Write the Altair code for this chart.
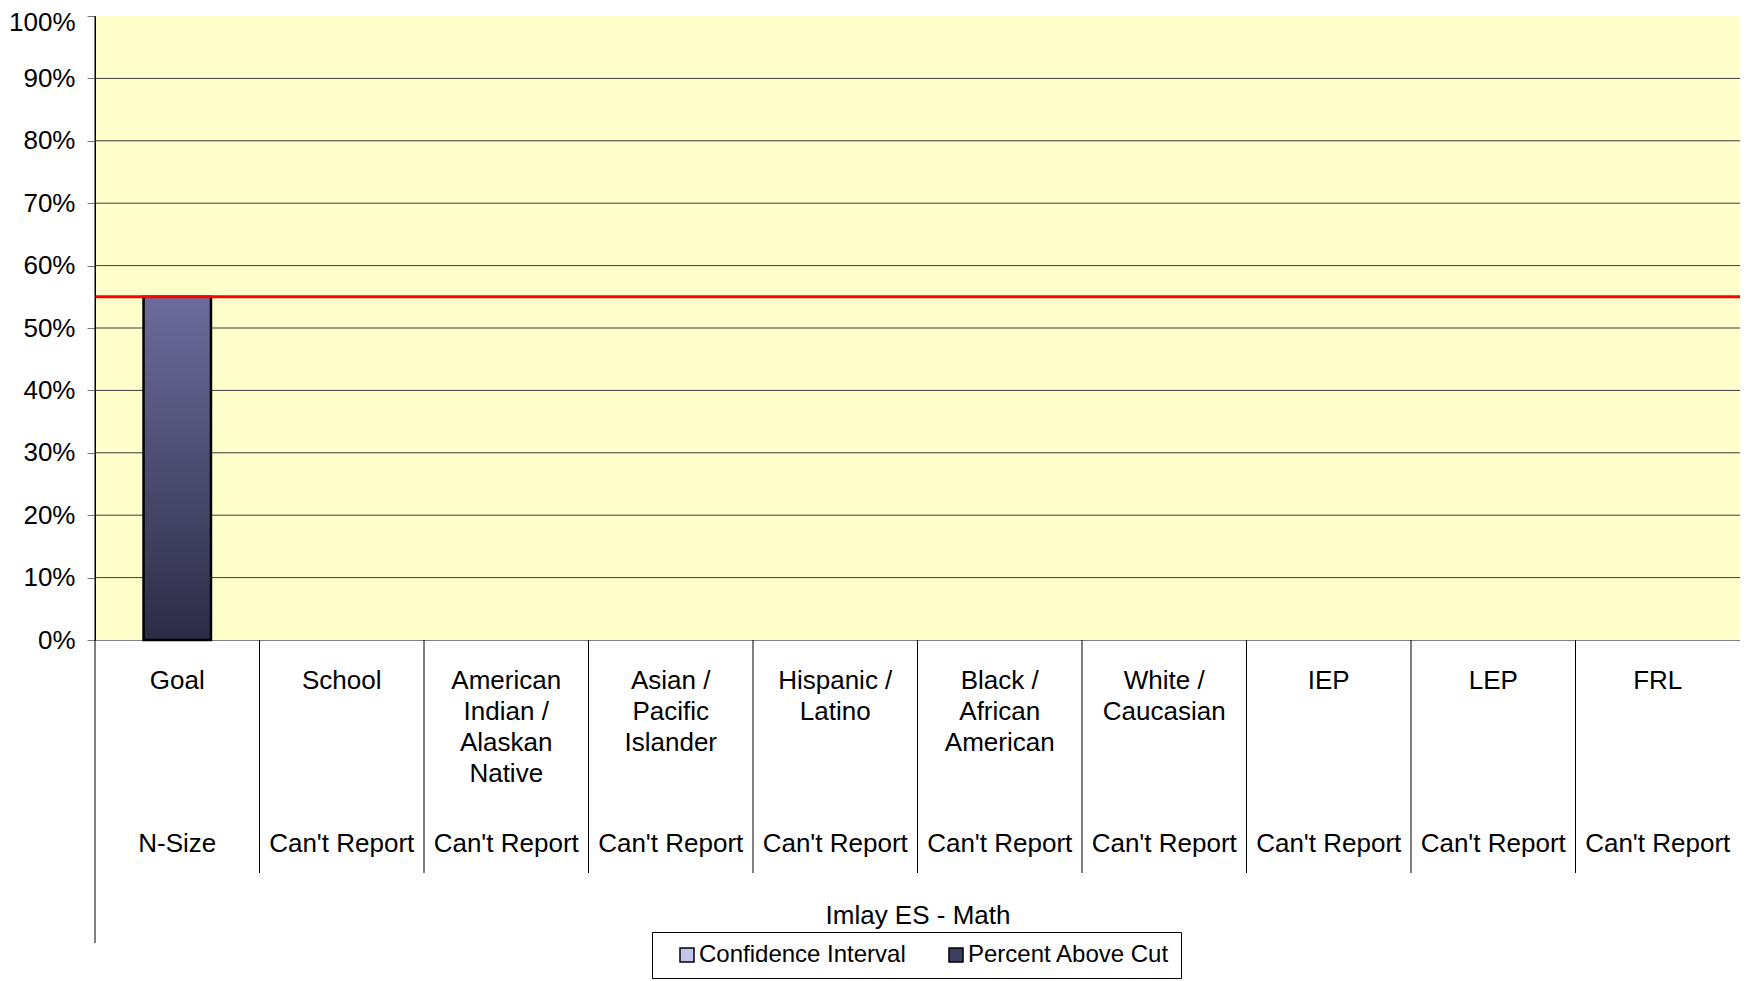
import altair as alt
import pandas as pd

# ---- data ----
categories = ["Goal", "School", "American|Indian /|Alaskan|Native", "Asian /|Pacific|Islander",
              "Hispanic /|Latino", "Black /|African|American", "White /|Caucasian", "IEP", "LEP", "FRL"]
n_size_labels = ["N-Size", "Can't Report", "Can't Report", "Can't Report", "Can't Report",
                 "Can't Report", "Can't Report", "Can't Report", "Can't Report", "Can't Report"]
percent_above_cut = [0.55, None, None, None, None, None, None, None, None, None]
goal_line = [0.55]
series_names = ["Confidence Interval", "Percent Above Cut"]
series_colors = ["#c4c4ec", "#3e3e60"]
y_tick_values = [0, 0.1, 0.2, 0.3, 0.4, 0.5, 0.6, 0.7, 0.8, 0.9, 1.0]
grid_values = [0.1, 0.2, 0.3, 0.4, 0.5, 0.6, 0.7, 0.8, 0.9]

FONT = "Liberation Sans"

bar_df = pd.DataFrame({"category": categories, "value": percent_above_cut})
nsize_df = pd.DataFrame({"category": categories, "nsize": n_size_labels})
sep_df = pd.DataFrame({"category": categories[1:]})
goal_df = pd.DataFrame({"value": goal_line})
grid_df = pd.DataFrame({"value": grid_values})
legend_df = pd.DataFrame({"category": [categories[0]] * 2, "value": [None, None], "series": series_names})
axis_df = pd.DataFrame({"k": [0]})

x_scale = alt.Scale(domain=categories, paddingInner=0, paddingOuter=0)
y_scale = alt.Scale(domain=[0, 1], nice=False)

x_axis = alt.Axis(
    title="Imlay ES - Math",
    labelExpr="split(datum.label, '|')",
    labelAngle=0,
    labelFontSize=26,
    labelLineHeight=31,
    labelBaseline="top",
    labelPadding=27,
    labelColor="black",
    labelOverlap=False,
    labelLimit=300,
    ticks=False,
    grid=False,
    domainColor="#808080",
    titleFontSize=26,
    titleFontWeight="normal",
    titleColor="black",
    titleY=283,
    titleBaseline="alphabetic",
)

y_axis = alt.Axis(
    values=y_tick_values,
    format=".0%",
    title=None,
    tickSize=8,
    tickColor="#777777",
    labelFontSize=26,
    labelColor="black",
    labelPadding=12,
    labelOffset={"condition": {"test": "datum.value >= 1", "value": 6}, "value": 0},
    domainColor="black",
    grid=False,
)

X = alt.X("category:N", sort=categories, scale=x_scale, axis=x_axis)
Y = alt.Y("value:Q", scale=y_scale, axis=y_axis)

grid = alt.Chart(grid_df).mark_rule(color="#3a3a3a", strokeWidth=1).encode(y=Y)

bars = alt.Chart(bar_df).mark_bar(
    fill=alt.Gradient(
        gradient="linear",
        stops=[alt.GradientStop(offset=0, color="#6c6c9c"), alt.GradientStop(offset=1, color="#2c2c46")],
        x1=0, x2=0, y1=0, y2=1,
    ),
    stroke="black",
    strokeWidth=2.5,
    width=alt.RelativeBandSize(0.41),
).encode(x=X, y=Y)

goal = alt.Chart(goal_df).mark_rule(color="#ff0000", strokeWidth=3).encode(y=Y)

separators = alt.Chart(sep_df).mark_rule(color="black", strokeWidth=1).encode(
    x=alt.X("category:N", sort=categories, scale=x_scale, axis=x_axis, bandPosition=0),
    y=alt.value(624),
    y2=alt.value(857),
)

y_line = alt.Chart(axis_df).mark_rule(color="black", strokeWidth=1).encode(
    x=alt.value(0),
    y=alt.value(0),
    y2=alt.value(927),
)

nsize = alt.Chart(nsize_df).mark_text(
    fontSize=26, font=FONT, baseline="alphabetic", align="center", color="black"
).encode(
    x=X,
    y=alt.value(836),
    text="nsize:N",
)

legend_layer = alt.Chart(legend_df).mark_square(size=196, stroke="black", strokeWidth=1.5, opacity=1).encode(
    x=X,
    y=Y,
    color=alt.Color(
        "series:N",
        scale=alt.Scale(domain=series_names, range=series_colors),
        legend=alt.Legend(
            title=None,
            orient="none",
            legendX=557,
            legendY=916,
            direction="horizontal",
            symbolType="square",
            symbolSize=196,
            symbolStrokeColor="black",
            symbolStrokeWidth=1.5,
            labelFontSize=24,
            labelFont=FONT,
            labelColor="black",
            labelLimit=400,
            labelOffset=0,
            labelExpr="datum.value == 'Percent Above Cut' ? datum.label + '\u2002' : datum.label",
            columnPadding=26,
            padding=11,
            symbolOffset=12,
            strokeColor="black",
            fillColor="white",
        ),
    ),
)

chart = alt.layer(grid, bars, goal, separators, y_line, nsize, legend_layer).properties(
    width=1645,
    height=624,
    autosize="none",
    padding={"left": 87, "top": 8, "right": 0, "bottom": 340},
).configure(font=FONT).configure_view(fill="#FFFFCC", stroke=None)

chart.save("out.html", embed_options={"renderer": "svg", "actions": False})
